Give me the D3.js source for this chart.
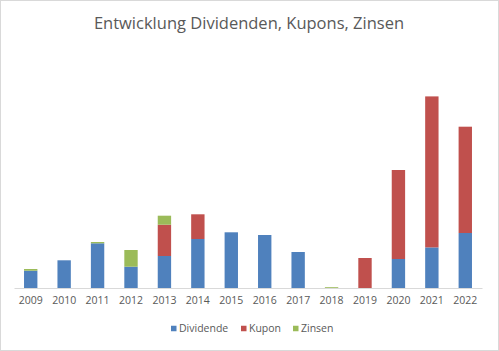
<!DOCTYPE html>
<html lang="de">
<head>
  <meta charset="UTF-8">
  <title>Entwicklung Dividenden, Kupons, Zinsen</title>
  <script src="https://cdn.jsdelivr.net/npm/d3@7"></script>
  <style>
    body { margin: 0; background: #fff; }
    text { font-family: "Open Sans", "Noto Sans", sans-serif; fill: #595959; }
  </style>
</head>
<body>
  <svg width="499" height="351"></svg>
  <script>
    var years = ['2009','2010','2011','2012','2013','2014','2015','2016','2017','2018','2019','2020','2021','2022'];
    var dividende = [17.3, 27.7, 44.7, 21.3, 32, 49, 55.7, 53, 36, 0, 0, 29, 40.6, 55];
    var kupon     = [0, 0, 0, 0, 31.3, 24.7, 0, 0, 0, 0, 30, 89, 151, 106.3];
    var zinsen    = [1.7, 0, 1.3, 16.7, 9, 0, 0, 0, 0, 0.8, 0, 0, 0, 0];
    var seriesNames = ['Dividende', 'Kupon', 'Zinsen'];
    var colors = ['#4f81bd', '#c0504d', '#9bbb59'];

    var svg = d3.select('svg');
    var margin = {top: 40, right: 17, bottom: 63, left: 14};
    var width = 499 - margin.left - margin.right;
    var height = 351 - margin.top - margin.bottom;

    svg.append('rect')
      .attr('x', 0.5).attr('y', 0.5)
      .attr('width', 498).attr('height', 350)
      .attr('fill', 'white').attr('stroke', '#d9d9d9');

    svg.append('text')
      .attr('x', 249).attr('y', 29)
      .attr('text-anchor', 'middle')
      .style('font-size', '16.5px')
      .text('Entwicklung Dividenden, Kupons, Zinsen');

    var chart = svg.append('g')
      .attr('transform', 'translate(' + margin.left + ',' + margin.top + ')');

    var data = years.map(function(y, i) {
      return {year: y, Dividende: dividende[i], Kupon: kupon[i], Zinsen: zinsen[i]};
    });
    var stacked = d3.stack().keys(seriesNames)(data);

    var xScale = d3.scaleBand().domain(years).range([0, width]).paddingInner(0.6).paddingOuter(0.3);
    var yScale = d3.scaleLinear().domain([0, 248]).range([height, 0]);

    var layer = chart.selectAll('.serie')
      .data(stacked)
      .enter()
      .append('g')
      .attr('class', 'serie')
      .attr('fill', function(d, i) { return colors[i]; });

    layer.selectAll('rect')
      .data(function(d) { return d; })
      .enter()
      .append('rect')
      .attr('x', function(d) { return xScale(d.data.year); })
      .attr('width', xScale.bandwidth())
      .attr('y', function(d) { return yScale(d[1]); })
      .attr('height', function(d) { return yScale(d[0]) - yScale(d[1]); });

    var xAxis = chart.append('g')
      .attr('transform', 'translate(0,' + height + ')')
      .call(d3.axisBottom(xScale).tickSize(0).tickPadding(9));
    xAxis.select('.domain').attr('stroke', '#d9d9d9');
    xAxis.selectAll('text').style('font-size', '10.5px').attr('fill', '#595959');

    var legendX = [171, 241, 293];
    var legend = svg.selectAll('.legend')
      .data(seriesNames)
      .enter()
      .append('g')
      .attr('class', 'legend')
      .attr('transform', function(d, i) { return 'translate(' + legendX[i] + ',328.5)'; });
    legend.append('rect')
      .attr('x', 0).attr('y', -2.75)
      .attr('width', 5.5).attr('height', 5.5)
      .attr('fill', function(d, i) { return colors[i]; });
    legend.append('text')
      .attr('x', 8).attr('dy', '.35em')
      .style('font-size', '10.5px')
      .text(function(d) { return d; });
  </script>
</body>
</html>
